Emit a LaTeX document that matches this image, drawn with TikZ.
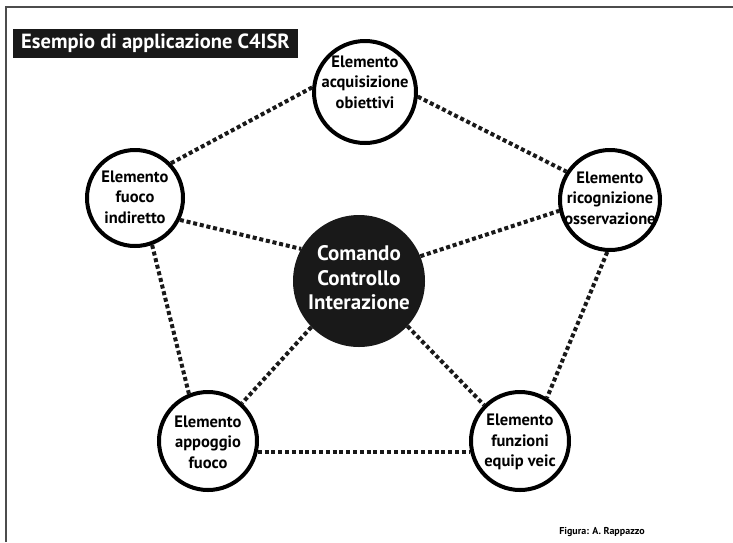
\documentclass[tikz,border=0pt]{standalone}
\usepackage{fontspec}
\setmainfont{PT Sans}
\begin{document}
\begin{tikzpicture}[x=1pt,y=-1pt,
  elem/.style={circle,draw=black,line width=4pt,fill=white,inner sep=0pt},
  elemtext/.style={align=center,font=\fontsize{16.5}{20.5}\selectfont\bfseries,inner sep=0pt},
  core/.style={circle,fill=black!90,inner sep=0pt},
  coretext/.style={align=center,text=white,font=\fontsize{21}{24.5}\selectfont\bfseries,inner sep=0pt},
  link/.style={line width=4pt,dash pattern=on 4pt off 2.8pt,draw=black!90}
]
\useasboundingbox (0,0) rectangle (733,542);
\fill[white] (0,0) rectangle (733,542);
\draw[black!70,line width=1.3pt] (6,542) -- (6,7) -- (733,7);

\node[fill=black!90,text=white,minimum width=285pt,minimum height=29pt,inner sep=0pt,
      font=\fontsize{20.5}{24}\selectfont\bfseries] (title) at (155.5,43.5) {Esempio di applicazione C4ISR};

% circles
\node[elem,minimum size=102pt] (T)  at (365,92)  {};
\node[elem,minimum size=96pt]  (UL) at (135,198) {};
\node[elem,minimum size=100pt] (UR) at (610,200) {};
\node[core,minimum size=132pt] (C)  at (359,281) {};
\node[elem,minimum size=98pt]  (LL) at (208,441) {};
\node[elem,minimum size=98pt]  (LR) at (520,441) {};

% links
\draw[link] (UL.44)  -- (T.175);
\draw[link] (T.-5)   -- (UR.147.5);
\draw[link] (UL.-26) -- (C.151);
\draw[link] (C.22)   -- (UR.192.6);
\draw[link] (UL.-70) -- (LL.112);
\draw[link] (UR.267) -- (LR.58);
\draw[link] (C.224)  -- (LL.48);
\draw[link] (C.-43)  -- (LR.135);
\draw[link] (LL.-12.6) -- (LR.192.6);

% texts
\node[elemtext] (Tt)  at (365,82)  {Elemento\\acquisizione\\obiettivi};
\node[elemtext] (ULt) at (135,197) {Elemento\\fuoco\\indiretto};
\node[elemtext] (URt) at (610,198) {Elemento\\ricognizione\\osservazione};
\node[coretext] (Ct)  at (359,278) {Comando\\Controllo\\Interazione};
\node[elemtext] (LLt) at (208,442) {Elemento\\appoggio\\fuoco};
\node[elemtext] (LRt) at (520,442) {Elemento\\funzioni\\equip veic};

\node[font=\fontsize{10}{12}\selectfont\bfseries,inner sep=0pt] (cap) at (602,532) {Figura: A. Rappazzo};
\end{tikzpicture}
\end{document}
